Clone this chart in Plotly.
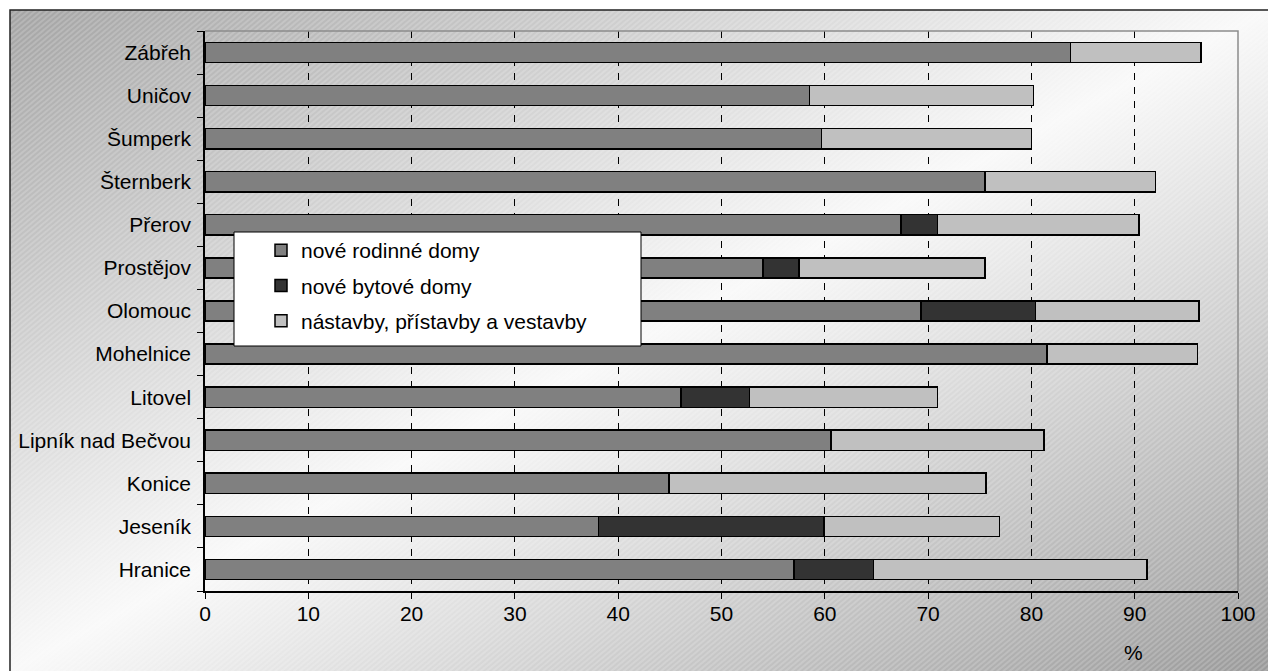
import base64
import plotly.graph_objects as go

# ---- data ----
categories = ["Hranice", "Jeseník", "Konice", "Lipník nad Bečvou", "Litovel",
              "Mohelnice", "Olomouc", "Prostějov", "Přerov", "Šternberk",
              "Šumperk", "Uničov", "Zábřeh"]
rodinne = [57.0, 38.1, 44.9, 60.6, 46.1, 81.5, 69.3, 54.0, 67.4, 75.5, 59.7, 58.5, 83.8]
bytove = [7.7, 21.8, 0.0, 0.0, 6.6, 0.0, 11.1, 3.5, 3.5, 0.0, 0.0, 0.0, 0.0]
nastavby = [26.5, 17.0, 30.7, 20.6, 18.2, 14.6, 15.8, 18.0, 19.5, 16.5, 20.3, 21.7, 12.6]
series_names = ["nové rodinné domy", "nové bytové domy", "nástavby, přístavby a vestavby"]
x_ticks = [0, 10, 20, 30, 40, 50, 60, 70, 80, 90, 100]

colors = ["#808080", "#333333", "#c0c0c0"]
FONT = "Liberation Sans, Arial, sans-serif"
FS = 21

W, H = 1268, 671
L, R, T, B = 205, 30, 31, 80
PW, PH = W - L - R, H - T - B


def px(x):
    return (x - L) / PW


def py(y):
    return (H - B - y) / PH


fig = go.Figure()
for name, vals, col in zip(series_names, [rodinne, bytove, nastavby], colors):
    fig.add_trace(go.Bar(
        y=categories, x=vals, name=name, orientation="h",
        marker=dict(color=col, line=dict(color="#000000", width=1.5)),
        legendgroup=name, hoverinfo="skip",
    ))

# background gradient with fine hatching
svg = f'''<svg xmlns="http://www.w3.org/2000/svg" width="1258" height="661" viewBox="0 0 1258 661" preserveAspectRatio="none">
<defs>
<linearGradient id="g" x1="0" y1="0" x2="1" y2="1">
<stop offset="0" stop-color="#a4a4a4"/>
<stop offset="0.5" stop-color="#f9f9f9"/>
<stop offset="1" stop-color="#9a9a9a"/>
</linearGradient>
<pattern id="p" patternUnits="userSpaceOnUse" width="4" height="4" patternTransform="rotate(-40)">
<line x1="0" y1="1" x2="4" y2="1" stroke="#ffffff" stroke-opacity="0.35" stroke-width="1"/>
</pattern>
</defs>
<rect x="0" y="0" width="1258" height="661" fill="url(#g)"/>
<rect x="0" y="0" width="1258" height="661" fill="url(#p)"/>
</svg>'''
src = "data:image/svg+xml;base64," + base64.b64encode(svg.encode("utf-8")).decode("ascii")

fig.add_layout_image(dict(
    source=src, xref="paper", yref="paper",
    x=px(10), y=py(10), sizex=1258 / PW, sizey=661 / PH,
    xanchor="left", yanchor="top", sizing="stretch", layer="below",
))

shapes = [
    # outer frame
    dict(type="rect", xref="paper", yref="paper", x0=px(10), y0=py(10), x1=px(1290), y1=py(700),
         line=dict(color="#222222", width=1.5), fillcolor="rgba(0,0,0,0)", layer="above"),
    # plot area top/right border
    dict(type="path", xref="paper", yref="paper",
         path="M 0 1 L 1 1 L 1 0", line=dict(color="#8c8c8c", width=1.5), layer="above"),
    # legend box
    dict(type="rect", xref="paper", yref="paper", x0=px(234), y0=py(232), x1=px(641), y1=py(346),
         line=dict(color="#000000", width=1), fillcolor="#ffffff", layer="above"),
]

fig.update_layout(
    width=W, height=H,
    margin=dict(l=L, r=R, t=T, b=B, pad=0),
    barmode="stack", bargap=0.53,
    paper_bgcolor="#ffffff", plot_bgcolor="#ffffff",
    font=dict(family=FONT, size=FS, color="#000000"),
    shapes=shapes,
    showlegend=True,
    legend=dict(
        x=px(261), y=py(230), xanchor="left", yanchor="top",
        bgcolor="rgba(0,0,0,0)", borderwidth=0,
        traceorder="grouped", tracegroupgap=5,
        font=dict(family=FONT, size=FS, color="#000000"),
    ),
    xaxis=dict(
        range=[0, 100], tickvals=x_ticks, ticktext=[str(v) for v in x_ticks],
        showgrid=True, gridcolor="#000000", griddash="7px,7px", gridwidth=1,
        showline=True, linecolor="#000000", linewidth=1.5,
        ticks="outside", ticklen=6, tickcolor="#000000", tickwidth=1,
        ticklabelstandoff=-3,
        zeroline=False, fixedrange=True,
    ),
    yaxis=dict(
        type="category", categoryorder="array", categoryarray=categories,
        showline=True, linecolor="#000000", linewidth=1.5,
        ticks="outside", ticklen=6, tickcolor="#000000", tickwidth=1,
        tickson="boundaries", ticklabelstandoff=8,
        showgrid=False, zeroline=False, fixedrange=True,
    ),
    annotations=[dict(text="%", xref="paper", yref="paper", x=px(1133), y=py(652),
                      xanchor="center", yanchor="middle",
                      showarrow=False, font=dict(family=FONT, size=FS, color="#000000"))],
)

fig.write_html("out.html", config={"displayModeBar": False},
               post_script="document.body.style.margin='0';")
